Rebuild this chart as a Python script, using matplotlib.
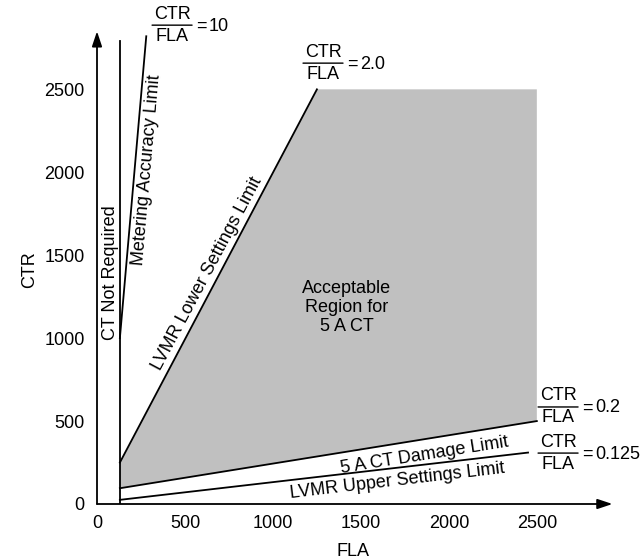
import matplotlib
matplotlib.use("Agg")
import matplotlib.pyplot as plt
from matplotlib.patches import Polygon

plt.rcParams["font.family"] = ["Liberation Sans", "DejaVu Sans"]

# tick values
fla_ticks = [0, 500, 1000, 1500, 2000, 2500]
ctr_ticks = [0, 500, 1000, 1500, 2000, 2500]

# limit lines (FLA, CTR)
ct_not_required_fla = 130
ct_not_required_ctr = [0, 2790]
metering_fla = [130, 280]
metering_ctr = [1000, 2820]
lower_fla = [130, 1250]
lower_ctr = [250, 2500]
damage_fla = [130, 2500]
damage_ctr = [95, 500]
upper_fla = [130, 2450]
upper_ctr = [25, 310]
region_top_ctr = 2500

# CTR/FLA ratio labels: value and anchor (left end of the fraction bar)
ratio_values = ["10", "2.0", "0.2", "0.125"]
ratio_fla = [313, 1171, 2507, 2507]
ratio_ctr = [2887, 2658, 585, 307]

fig = plt.figure(figsize=(6.43, 5.6), dpi=100)
ax = fig.add_axes([97 / 643, 56 / 560, 519 / 643, 481 / 560])
ax.set_xlim(0, 2950)
ax.set_ylim(0, 2900)
for s in ax.spines.values():
    s.set_visible(False)

lw = 1.3
region = Polygon(
    [(lower_fla[0], lower_ctr[0]), (lower_fla[1], lower_ctr[1]),
     (damage_fla[1], region_top_ctr), (damage_fla[1], damage_ctr[1]),
     (damage_fla[0], damage_ctr[0])],
    closed=True, facecolor="#c0c0c0", edgecolor="none", zorder=1)
ax.add_patch(region)

ax.plot([ct_not_required_fla] * 2, ct_not_required_ctr, color="black", lw=lw, zorder=3)
ax.plot(metering_fla, metering_ctr, color="black", lw=lw, zorder=3)
ax.plot(lower_fla, lower_ctr, color="black", lw=lw, zorder=3)
ax.plot(damage_fla, damage_ctr, color="black", lw=lw, zorder=3)
ax.plot(upper_fla, upper_ctr, color="black", lw=lw, zorder=3)

# axes with arrow heads
arrow = dict(arrowstyle="-|>,head_length=0.9,head_width=0.3", color="black", lw=lw,
             shrinkA=0, shrinkB=0)
ax.annotate("", xy=(2930, 0), xytext=(0, 0), arrowprops=arrow, annotation_clip=False)
ax.annotate("", xy=(0, 2850), xytext=(0, 0), arrowprops=arrow, annotation_clip=False)

fs = 13
ax.set_xticks(fla_ticks)
ax.set_yticks(ctr_ticks)
ax.tick_params(axis="both", length=0, labelsize=fs)
ax.tick_params(axis="x", pad=8)
ax.tick_params(axis="y", pad=9)

fig.text(353 / 643, 1 - 552 / 560, "FLA", ha="center", va="center", fontsize=fs)
fig.text(30 / 643, 1 - 270 / 560, "CTR", ha="center", va="center", rotation=90, fontsize=fs)

ax.text(74, 1392, "CT Not Required", rotation=90, ha="center", va="center", fontsize=fs)
ax.text(284, 2012, "Metering Accuracy Limit", rotation=85, ha="center", va="center",
        fontsize=fs, rotation_mode="anchor")
ax.text(625, 1392, "LVMR Lower Settings Limit", rotation=62, ha="center", va="center",
        fontsize=fs, rotation_mode="anchor")
ax.text(1420, 1187, "Acceptable\nRegion for\n5 A CT", ha="center", va="center",
        fontsize=fs, linespacing=1.15)
ax.text(1864, 265, "5 A CT Damage Limit", rotation=9, ha="center", va="baseline",
        fontsize=fs, rotation_mode="anchor")
ax.text(1710, 111, "LVMR Upper Settings Limit", rotation=6.7, ha="center", va="baseline",
        fontsize=fs, rotation_mode="anchor")


def ratio_label(x, y, value):
    bar = 40
    ax.annotate("", xy=(x, y), xytext=(bar, 0), textcoords="offset pixels",
                arrowprops=dict(arrowstyle="-", color="black", lw=1.0,
                                shrinkA=0, shrinkB=0),
                annotation_clip=False)
    ax.annotate("CTR", xy=(x, y), xytext=(bar / 2, 11), textcoords="offset pixels",
                ha="center", va="center", fontsize=fs, annotation_clip=False)
    ax.annotate("FLA", xy=(x, y), xytext=(bar / 2, -11), textcoords="offset pixels",
                ha="center", va="center", fontsize=fs, annotation_clip=False)
    ax.annotate("=", xy=(x, y), xytext=(bar + 4, -1), textcoords="offset pixels",
                ha="left", va="center", fontsize=fs, annotation_clip=False)
    ax.annotate(value, xy=(x, y), xytext=(bar + 17, -1), textcoords="offset pixels",
                ha="left", va="center", fontsize=fs, annotation_clip=False)


for v, fx, cy in zip(ratio_values, ratio_fla, ratio_ctr):
    ratio_label(fx, cy, v)

fig.savefig("out.png", dpi=100)
